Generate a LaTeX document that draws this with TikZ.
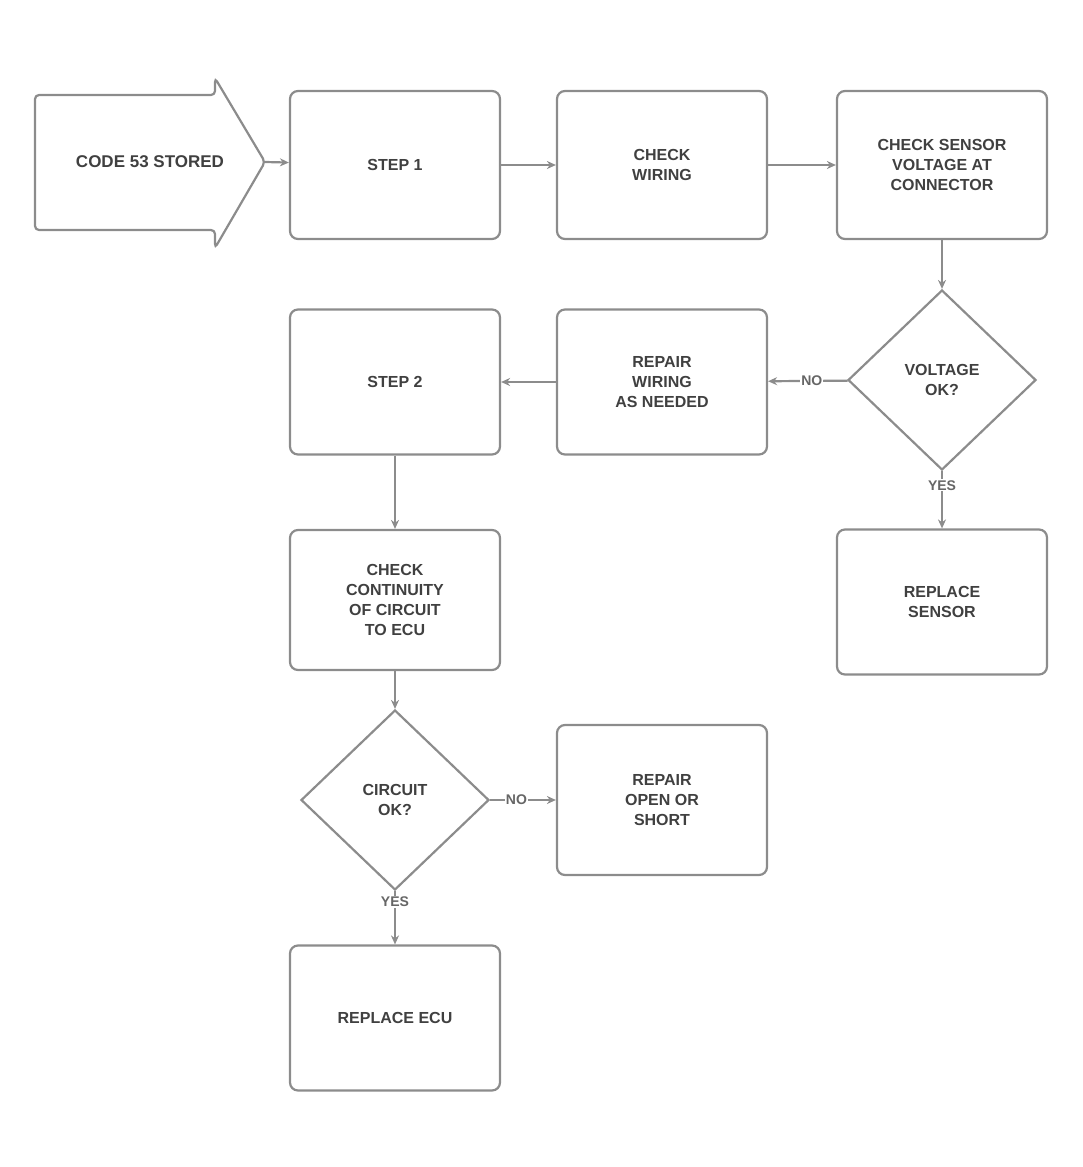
\documentclass[tikz,border=0pt]{standalone}
\usepackage{fontspec}
\setmainfont{Liberation Sans}
\usetikzlibrary{shapes.geometric,arrows.meta}
\begin{document}
\begin{tikzpicture}[x=1pt,y=-1pt,
  box/.style={draw=black!45, line width=2.2pt, rounded corners=8pt, minimum width=210pt, minimum height=148pt, align=center, font=\fontsize{16}{20}\selectfont\bfseries, text=black!75},
  dia/.style={diamond, draw=black!45, line width=2.2pt, minimum width=188pt, minimum height=180pt, inner sep=0pt, align=center, font=\fontsize{16}{20}\selectfont\bfseries, text=black!75},
  conn/.style={draw=black!45, line width=2.2pt, -{Stealth[length=9pt,width=8pt]}},
  lbl/.style={font=\fontsize{14}{16}\selectfont\bfseries, text=black!60, fill=white, inner sep=1pt}]
\useasboundingbox (0,0) rectangle (1082,1167);
% start arrow shape
\draw[draw=black!45, line width=2.2pt, rounded corners=4pt] (35,95) -- (215,95) -- (215,78) -- (265,162) -- (215,248) -- (215,230) -- (35,230) -- cycle;
\node[font=\fontsize{17}{20}\selectfont\bfseries, text=black!75] (n1) at (150,162) {CODE 53 STORED};
\coordinate (t1) at (265,162);
\node[box] (b2) at (395,165) {STEP 1};
\node[box] (b3) at (662,165) {CHECK\\WIRING};
\node[box] (b4) at (942,165) {CHECK SENSOR\\VOLTAGE AT\\CONNECTOR};
\node[dia] (d1) at (942,380) {VOLTAGE\\OK?};
\node[box, minimum height=145pt] (r1) at (942,602) {REPLACE\\SENSOR};
\node[box, minimum height=145pt] (ba) at (395,382) {STEP 2};
\node[box, minimum height=145pt] (bb) at (662,382) {REPAIR\\WIRING\\AS NEEDED};
\node[box, minimum height=140pt] (bc) at (395,600) {CHECK\\CONTINUITY\\OF CIRCUIT\\TO ECU};
\node[dia] (d2) at (395,800) {CIRCUIT\\OK?};
\node[box, minimum height=150pt] (bd) at (662,800) {REPAIR\\OPEN OR\\SHORT};
\node[box, minimum height=145pt] (be) at (395,1018) {REPLACE ECU};
\draw[conn] (t1) -- (b2);
\draw[conn] (b2) -- (b3);
\draw[conn] (b3) -- (b4);
\draw[conn] (b4) -- (d1);
\draw[conn] (d1) -- node[lbl, pos=0.25] {YES} (r1);
\draw[conn] (d1) -- node[lbl, pos=0.45] {NO} (bb);
\draw[conn] (bb) -- (ba);
\draw[conn] (ba) -- (bc);
\draw[conn] (bc) -- (d2);
\draw[conn] (d2) -- node[lbl, pos=0.4] {NO} (bd);
\draw[conn] (d2) -- node[lbl, pos=0.2] {YES} (be);
\end{tikzpicture}
\end{document}
